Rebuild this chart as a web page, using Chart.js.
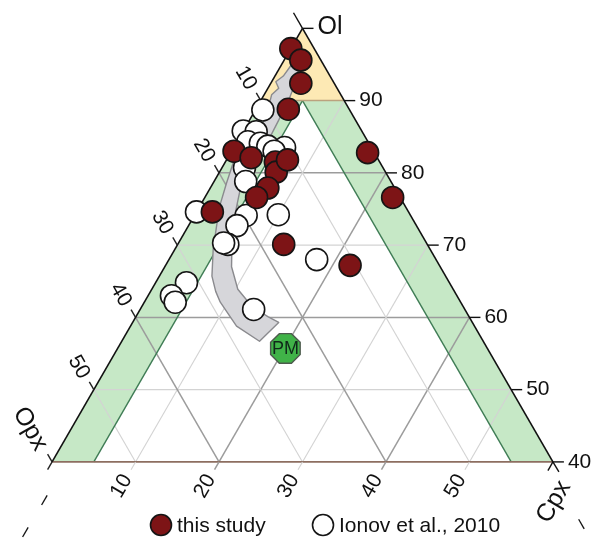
<!DOCTYPE html>
<html><head><meta charset="utf-8">
<script src="https://cdn.jsdelivr.net/npm/chart.js@4.4.1/dist/chart.umd.min.js"></script>
<style>html,body{margin:0;padding:0;background:#fff}#wrap{width:603px;height:540px;position:relative}</style>
</head><body><div id="wrap"><canvas id="c"></canvas></div>
<script>
// ---- data (modal %: Ol, Cpx, Opx) ----
const seriesNames = ['this study', 'Ionov et al., 2010'];
const olThisStudy  = [97.2, 95.6, 92.4, 88.8, 82.8, 76.6, 83.0, 82.1, 81.5, 80.1, 77.9, 76.6, 74.6, 70.1, 67.2, 81.8];
const cpxThisStudy = [ 0.0,  2.0,  3.6,  3.9, 16.4, 22.5,  0.3,  2.8,  6.0,  6.8,  6.9,  6.2,  1.9, 12.7, 22.1,  7.3];
const opxThisStudy = [ 2.8,  2.4,  4.0,  7.3,  0.8,  0.9, 16.7, 15.1, 12.5, 13.1, 15.2, 17.2, 23.5, 17.2, 10.7, 10.9];
const olIonov  = [88.7, 85.8, 85.7, 84.3, 84.1, 83.7, 83.5, 83.0, 80.7, 78.8, 74.6, 74.1, 72.7, 74.2, 70.1, 70.3, 68.0, 64.8, 63.0, 62.1, 61.1];
const cpxIonov = [ 0.9,  0.0,  1.6,  1.3,  2.9,  4.0,  6.1,  5.1,  2.7,  3.8,  0.0,  6.2,  5.8, 10.0,  6.0,  5.4, 17.7,  3.7,  2.8,  3.7, 13.6];
const opxIonov = [10.4, 14.2, 12.7, 14.4, 13.0, 12.3, 10.4, 11.9, 16.6, 17.4, 25.4, 19.7, 21.5, 15.8, 23.9, 24.3, 14.3, 31.5, 34.2, 34.2, 25.3];
const pmOl = [55.7], pmCpx = [20.1], pmOpx = [24.2];
const olTicks  = [90, 80, 70, 60, 50, 40];
const cpxTicks = [10, 20, 30, 40, 50];
const opxTicks = [10, 20, 30, 40, 50];
// melting-trend band outline, [Ol, Cpx]
const trendBand = [[95.0,1.2],[93.4,1.0],[92.6,0.5],[91.7,1.3],[90.8,0.9],[87.6,1.8],[84.6,1.8],[81.4,1.0],[78.6,1.6],[75.3,2.4],[72.6,3.4],[69.4,4.6],[65.7,6.3],[63.6,7.8],[62.1,9.1],[58.8,12.7],[56.7,16.5],[59.3,17.5],[60.1,15.8],[61.5,13.2],[63.9,10.3],[67.0,8.0],[70.3,6.4],[73.9,4.9],[78.6,3.4],[80.8,2.9],[83.9,3.7],[87.3,3.5],[90.1,3.3],[92.6,2.9],[94.2,2.4]];

const S3 = Math.sqrt(3) / 2;
function tern(ol, cpx) { return { x: cpx + ol / 2, y: ol * S3 }; }

const FONT = '"Liberation Sans", Arial, Helvetica, sans-serif';

const ternaryPlugin = {
  id: 'ternary',
  beforeDatasetsDraw(chart) {
    const { ctx } = chart;
    const xs = chart.scales.x, ys = chart.scales.y;
    const P = (ol, cpx) => ({ x: xs.getPixelForValue(cpx + ol / 2), y: ys.getPixelForValue(ol * S3) });
    const poly = (pts, fill, stroke, lw) => {
      ctx.beginPath(); ctx.moveTo(pts[0].x, pts[0].y);
      for (let i = 1; i < pts.length; i++) ctx.lineTo(pts[i].x, pts[i].y);
      ctx.closePath();
      if (fill) { ctx.fillStyle = fill; ctx.fill(); }
      if (stroke) { ctx.strokeStyle = stroke; ctx.lineWidth = lw || 1; ctx.lineJoin = 'round'; ctx.stroke(); }
    };
    const line = (a, b, color, lw) => {
      ctx.beginPath(); ctx.moveTo(a.x, a.y); ctx.lineTo(b.x, b.y);
      ctx.strokeStyle = color; ctx.lineWidth = lw; ctx.stroke();
    };
    const text = (t, x, y, rot, size, align) => {
      ctx.save(); ctx.translate(x, y); ctx.rotate(rot);
      ctx.font = size + 'px ' + FONT; ctx.fillStyle = '#111';
      ctx.textAlign = align || 'center'; ctx.textBaseline = 'middle';
      ctx.fillText(t, 0, 0); ctx.restore();
    };
    ctx.save();
    // region fills
    poly([P(100, 0), P(90, 0), P(90, 10)], '#fde9b4');
    poly([P(40, 0), P(90, 0), P(90, 5), P(40, 5)], '#c6e8c6');
    poly([P(40, 60), P(90, 10), P(90, 5), P(40, 55)], '#c6e8c6');
    // grid
    const gc = v => (v % 20 === 0 ? '#9c9c9c' : '#d3d3d3');
    const gw = v => (v % 20 === 0 ? 1.5 : 1.1);
    [50, 60, 70, 80].forEach(o => line(P(o, 0), P(o, 100 - o), gc(o), gw(o)));
    cpxTicks.forEach(c => line(P(40, c), P(100 - c, c), gc(c), gw(c)));
    opxTicks.forEach(o => line(P(40, 60 - o), P(100 - o, 0), gc(o), gw(o)));
    // field borders
    line(P(40, 5), P(90, 5), '#3f7c55', 1.4);
    line(P(40, 55), P(90, 5), '#3f7c55', 1.4);
    line(P(90, 0), P(90, 10), '#bba27e', 1.5);
    line(P(40, 0), P(40, 60), '#8d6e60', 1.6);
    // triangle edges
    line(P(40, 0), P(100, 0), '#111', 1.6);
    line(P(40, 60), P(100, 0), '#111', 1.6);

    const u = { x: -0.5, y: -S3 };   // Opx tick direction
    const v = { x: -0.5, y: S3 };    // Cpx tick direction
    const add = (a, d, k) => ({ x: a.x + d.x * k, y: a.y + d.y * k });
    // Ol axis (right)
    olTicks.forEach(o => {
      const a = P(o, 100 - o);
      line(a, { x: a.x + 11, y: a.y }, '#111', 1.4);
      text(String(o), a.x + 15, a.y, 0, 21, 'left');
    });
    const apex = P(100, 0);
    line(apex, { x: apex.x + 11, y: apex.y }, '#111', 1.4);
    text('Ol', apex.x + 15, apex.y - 1, 0, 25, 'left');
    line(apex, add(apex, u, 18), '#111', 1.4);
    // Opx axis (left)
    opxTicks.forEach(o => {
      const a = P(100 - o, 0);
      line(a, add(a, u, 9), '#222', 1.4);
      const l = add(a, u, 26);
      text(String(o), l.x - 2, l.y, Math.PI / 3, 21);
    });
    const oc = P(40, 0);
    line(oc, add(oc, u, 9), '#222', 1.4);
    line(oc, add(oc, v, 9), '#222', 1.4);
    text('Opx', oc.x - 22, oc.y - 33, Math.PI / 3, 25);
    text('\u2013', oc.x - 8, oc.y + 38, -Math.PI / 3, 20);
    text('\u2013', oc.x - 27, oc.y + 70, -Math.PI / 3, 20);
    // Cpx axis (bottom)
    cpxTicks.forEach(c => {
      const a = P(40, c);
      line(a, add(a, v, 9), gc(c), gw(c));
      const l = add(a, v, 28);
      text(String(c), l.x, l.y, -Math.PI / 3, 21);
    });
    const cc = P(40, 60);
    line(cc, add(cc, v, 10), '#111', 1.4);
    line(cc, { x: cc.x + 6, y: cc.y + 10 }, '#111', 1.4);
    text('Cpx', cc.x + 1, cc.y + 40, -Math.PI / 3, 25);
    text('\u2013', cc.x + 29, cc.y + 62, Math.PI / 3, 20);

    // melting trend band
    poly(trendBand.map(p => P(p[0], p[1])), '#d6d6da', '#8a8a8e', 1.4);

    // PM octagon
    pmOl.forEach((o, i) => {
      const c = P(o, pmCpx[i]);
      const R = 16;
      const pts = [];
      for (let k = 0; k < 8; k++) {
        const ang = Math.PI / 8 + k * Math.PI / 4;
        pts.push({ x: c.x + R * Math.cos(ang), y: c.y + R * Math.sin(ang) });
      }
      poly(pts, '#40b348', '#4d5a4d', 1.4);
      ctx.font = '18px ' + FONT; ctx.fillStyle = '#10281a';
      ctx.textAlign = 'center'; ctx.textBaseline = 'middle';
      ctx.fillText('PM', c.x, c.y + 1);
    });
    ctx.restore();
  },
  afterDraw(chart) {
    const { ctx } = chart;
    ctx.save();
    const items = [
      { x: 161, fill: '#7d1416', label: seriesNames[0] },
      { x: 323, fill: '#ffffff', label: seriesNames[1] }
    ];
    items.forEach(it => {
      ctx.beginPath(); ctx.arc(it.x, 525, 10.5, 0, Math.PI * 2);
      ctx.fillStyle = it.fill; ctx.fill();
      ctx.lineWidth = 1.6; ctx.strokeStyle = '#151515'; ctx.stroke();
      ctx.font = '21px ' + FONT; ctx.fillStyle = '#111';
      ctx.textAlign = 'left'; ctx.textBaseline = 'middle';
      ctx.fillText(it.label, it.x + 16, 526);
    });
    ctx.restore();
  }
};

new Chart(document.getElementById('c'), {
  type: 'scatter',
  data: {
    datasets: [
      {
        label: seriesNames[0],
        data: olThisStudy.map((o, i) => tern(o, cpxThisStudy[i])),
        backgroundColor: '#7d1416', borderColor: '#151515', borderWidth: 1.6,
        pointRadius: 11, pointHoverRadius: 11, order: 0, clip: false
      },
      {
        label: seriesNames[1],
        data: olIonov.map((o, i) => tern(o, cpxIonov[i])),
        backgroundColor: '#ffffff', borderColor: '#151515', borderWidth: 1.6,
        pointRadius: 11, pointHoverRadius: 11, order: 1, clip: false
      }
    ]
  },
  options: {
    responsive: true, maintainAspectRatio: false, animation: false, events: [],
    layout: { autoPadding: false, padding: { left: 2, right: 0, top: 0, bottom: 6 } },
    scales: {
      x: { type: 'linear', min: 14, max: 86, display: false },
      y: { type: 'linear', min: 26, max: 90, display: false }
    },
    plugins: { legend: { display: false }, tooltip: { enabled: false } }
  },
  plugins: [ternaryPlugin]
});
</script>
</body></html>
